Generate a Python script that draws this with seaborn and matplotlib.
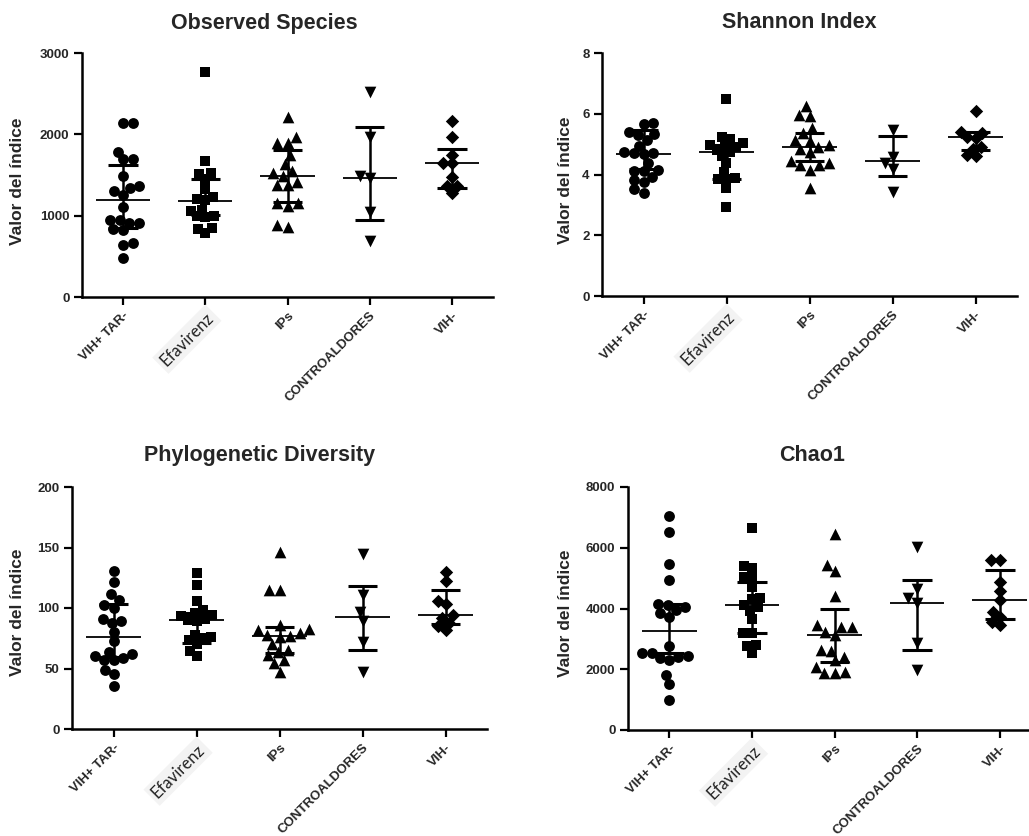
import numpy as np
import pandas as pd
import matplotlib
matplotlib.use("Agg")
import matplotlib.pyplot as plt
from matplotlib.collections import PathCollection
import seaborn as sns

# ---------------- data ----------------
categories = ["VIH+ TAR-", "Efavirenz", "IPs", "CONTROALDORES", "VIH-"]
markers = ["o", "s", "^", "v", "D"]
marker_sizes = [7.8, 6.8, 8.4, 8.4, 6.8]

observed_species = [
    [2140, 2140, 1788, 1693, 1693, 1488, 1365, 1255, 1304, 1337, 1110, 945, 945, 912, 910, 822, 830, 658, 637, 481],
    [2762, 1669, 1510, 1520, 1450, 1330, 1230, 1200, 1190, 1070, 1060, 990, 1000, 980, 850, 840, 790],
    [2211, 1965, 1890, 1890, 1745, 1640, 1550, 1520, 1490, 1420, 1380, 1380, 1150, 1120, 1150, 860, 880],
    [2520, 1970, 1490, 1460, 1050, 690],
    [2160, 1970, 1750, 1650, 1650, 1480, 1360, 1360, 1280],
]
observed_median = [1188, 1184, 1488, 1467, 1644]
observed_q1 = [851, 1008, 1173, 945, 1340]
observed_q3 = [1628, 1447, 1802, 2096, 1825]

shannon = [
    [5.71, 5.65, 5.41, 5.33, 5.30, 5.14, 4.95, 4.75, 4.72, 4.70, 4.68, 4.39, 4.15, 4.13, 4.13, 3.93, 3.82, 3.76, 3.51, 3.40],
    [6.49, 5.25, 5.16, 5.05, 4.97, 4.95, 4.90, 4.80, 4.73, 4.60, 4.37, 4.09, 3.87, 3.84, 3.84, 3.56, 2.94],
    [6.24, 5.96, 5.93, 5.52, 5.35, 5.14, 5.10, 4.98, 4.92, 4.85, 4.75, 4.45, 4.37, 4.31, 4.30, 4.15, 3.54],
    [5.47, 4.59, 4.39, 4.17, 3.43],
    [6.10, 5.40, 5.35, 5.23, 5.20, 4.92, 4.85, 4.65, 4.60],
]
shannon_median = [4.69, 4.74, 4.92, 4.46, 5.22]
shannon_q1 = [4.17, 3.84, 4.43, 3.96, 4.80]
shannon_q3 = [5.46, 4.97, 5.35, 5.28, 5.40]

phylogenetic = [
    [130.7, 121.3, 111.4, 106.5, 102.3, 100, 91, 89.4, 87.8, 80.3, 72.4, 63.8, 62, 60, 58.5, 57, 57, 49, 45.5, 35.5],
    [129.3, 119, 106, 98, 95.5, 94, 93, 91, 90, 89, 78, 76, 74.8, 73.5, 70.2, 64.7, 60.5],
    [146, 115, 114.5, 86, 83, 81.8, 79, 77.7, 77, 76.2, 70.2, 65.3, 63.8, 61.2, 57, 54.3, 47.4],
    [145, 111, 97, 89, 72, 47],
    [130, 122, 106, 103, 94, 92, 88, 85, 82],
]
phylo_median = [76.3, 90.0, 76.9, 92.7, 94.0]
phylo_q1 = [59.7, 70.7, 62.4, 65.7, 87.0]
phylo_q3 = [102.9, 96.0, 83.9, 118.0, 114.7]

chao1 = [
    [7040, 6520, 5450, 4950, 4150, 4100, 4060, 3950, 3850, 3730, 2750, 2550, 2520, 2440, 2400, 2360, 2300, 1810, 1530, 1000],
    [6650, 5400, 5330, 5030, 4990, 4720, 4330, 4300, 4100, 4060, 3930, 3670, 3200, 3180, 2800, 2760, 2540],
    [6450, 5430, 5220, 4410, 3450, 3400, 3380, 3240, 3130, 2620, 2610, 2400, 2300, 2090, 1900, 1870, 1890],
    [6040, 4630, 4350, 4170, 2880, 1975],
    [5610, 5610, 4880, 4590, 4290, 3890, 3730, 3560, 3450],
]
chao1_median = [3255, 4110, 3128, 4197, 4274]
chao1_q1 = [2521, 3178, 2249, 2630, 3638]
chao1_q3 = [4164, 4877, 3984, 4953, 5260]

titles = ["Observed Species", "Shannon Index", "Phylogenetic Diversity", "Chao1"]
ylabel = "Valor del índice"
y_ticks = [[0, 1000, 2000, 3000], [0, 2, 4, 6, 8], [0, 50, 100, 150, 200], [0, 2000, 4000, 6000, 8000]]

# ---------------- style ----------------
sns.set_style("ticks")
plt.rcParams["font.family"] = ["Liberation Sans", "DejaVu Sans"]
plt.rcParams["font.weight"] = "bold"

W, H = 1029, 836
fig = plt.figure(figsize=(W / 100, H / 100), dpi=100)

SWARM_SCALE = 0.85  # swarm packed with slightly smaller markers, then drawn full size (Prism-like overlap)


def px_axes(x0, x1, y_top, y_bot):
    return fig.add_axes([x0 / W, 1 - y_bot / H, (x1 - x0) / W, (y_bot - y_top) / H])


panels = [
    dict(data=observed_species, med=observed_median, q1=observed_q1, q3=observed_q3,
         box=(82, 493, 53, 297), title_xy=(264, 23), ylab_xy=(18, 181)),
    dict(data=shannon, med=shannon_median, q1=shannon_q1, q3=shannon_q3,
         box=(602, 1017, 53, 296), title_xy=(799, 23), ylab_xy=(565, 180)),
    dict(data=phylogenetic, med=phylo_median, q1=phylo_q1, q3=phylo_q3,
         box=(72, 487, 487, 729), title_xy=(260, 455), ylab_xy=(18, 612)),
    dict(data=chao1, med=chao1_median, q1=chao1_q1, q3=chao1_q3,
         box=(628, 1041, 487, 730), title_xy=(812, 456), ylab_xy=(565, 613)),
]

swarm_colls = []
for i, p in enumerate(panels):
    ax = px_axes(*p["box"])
    rows = []
    for cat, vals in zip(categories, p["data"]):
        for v in vals:
            rows.append((cat, v))
    df = pd.DataFrame(rows, columns=["group", "value"])
    for cat, m, ms in zip(categories, markers, marker_sizes):
        before = set(id(c) for c in ax.collections)
        sns.swarmplot(data=df[df["group"] == cat], x="group", y="value", order=categories,
                      marker=m, color="black", size=ms * SWARM_SCALE, linewidth=0, ax=ax, zorder=3)
        for c in ax.collections:
            if id(c) not in before and isinstance(c, PathCollection):
                swarm_colls.append(c)

    pos = np.arange(len(categories))
    ax.vlines(pos, p["q1"], p["q3"], color="black", lw=1.8, zorder=4)
    ax.hlines(p["q1"], pos - 0.18, pos + 0.18, color="black", lw=2.2, zorder=4)
    ax.hlines(p["q3"], pos - 0.18, pos + 0.18, color="black", lw=2.2, zorder=4)
    ax.hlines(p["med"], pos - 0.33, pos + 0.33, color="black", lw=1.3, zorder=4)

    ax.set_xlim(-0.5, 4.5)
    yt = y_ticks[i]
    ax.set_ylim(yt[0], yt[-1])
    ax.set_yticks(yt)
    ax.set_yticklabels([str(t) for t in yt], fontsize=9.5, fontweight="bold")
    ax.set_xticks(pos)
    ax.set_xticklabels(categories, rotation=45, ha="right", rotation_mode="anchor",
                       fontsize=9.5, fontweight="bold")
    ax.set_xlabel("")
    ax.set_ylabel("")
    for sp in ["top", "right"]:
        ax.spines[sp].set_visible(False)
    for sp in ["left", "bottom"]:
        ax.spines[sp].set_linewidth(1.8)
        ax.spines[sp].set_color("black")
    ax.tick_params(axis="both", direction="out", length=6, width=1.6, color="black", pad=3)
    ax.tick_params(axis="x", pad=3)

    lab = ax.get_xticklabels()[1]
    lab.set_fontfamily(["Lato", "DejaVu Sans"])
    lab.set_fontweight("normal")
    lab.set_fontsize(12)
    lab.set_color("#222222")
    lab.set_bbox(dict(facecolor="#f3f3f3", edgecolor="none", pad=2.5))

    tx, ty = p["title_xy"]
    fig.text(tx / W, 1 - ty / H, titles[i], ha="center", va="center",
             fontsize=15.5, fontweight="bold")
    lx, ly = p["ylab_xy"]
    fig.text(lx / W, 1 - ly / H, ylabel, ha="center", va="center", rotation=90,
             fontsize=12.5, fontweight="bold")

# first draw lets seaborn compute the swarm positions; then freeze them and draw full-size markers
fig.canvas.draw()
for c in swarm_colls:
    if "draw" in c.__dict__:
        del c.draw
    c.set_sizes(np.asarray(c.get_sizes()) / SWARM_SCALE ** 2)

fig.savefig("out.png", dpi=100, facecolor="white")
